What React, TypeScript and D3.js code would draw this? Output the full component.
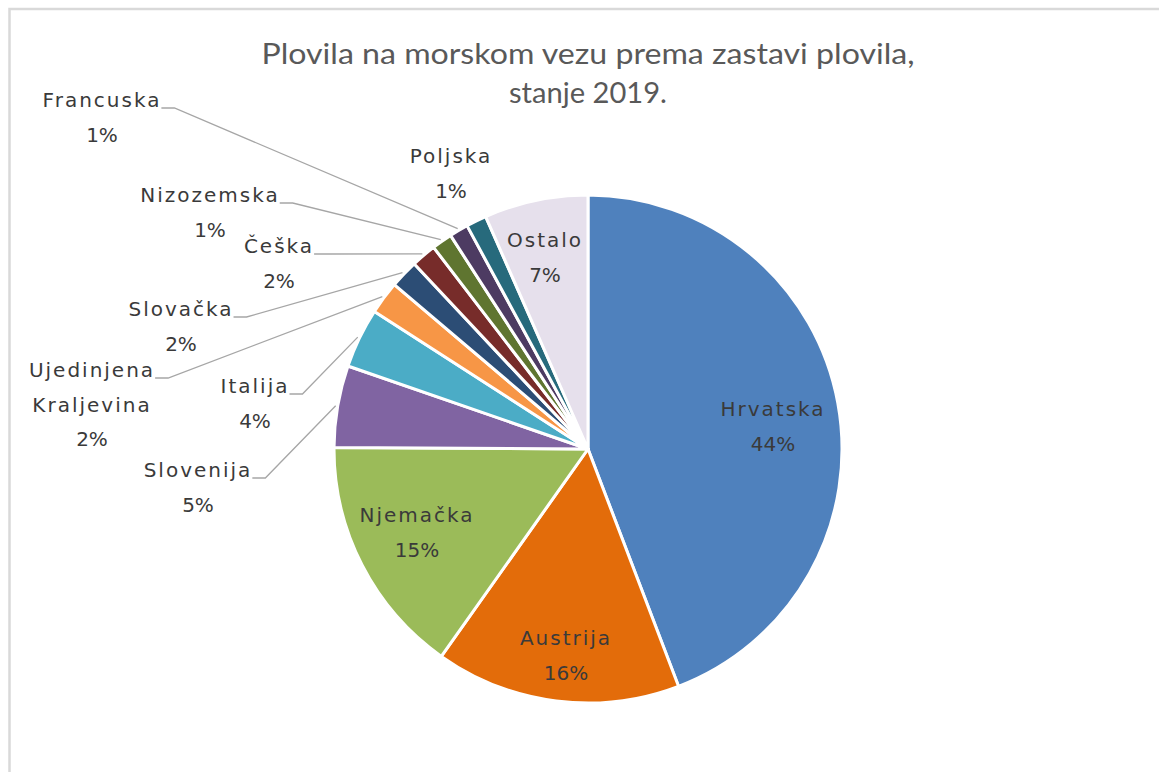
import React, { useRef, useEffect } from "react";
import * as d3 from "d3";

// share of vessels by flag (percent)
const countries = [
  "Hrvatska",
  "Austrija",
  "Njemačka",
  "Slovenija",
  "Italija",
  "Ujedinjena Kraljevina",
  "Slovačka",
  "Češka",
  "Nizozemska",
  "Francuska",
  "Poljska",
  "Ostalo",
];
const shares = [44.2, 15.6, 15.3, 5.2, 3.8, 2.1, 1.8, 1.6, 1.3, 1.2, 1.3, 6.6];
const colors = [
  "#4F81BD",
  "#E36C0A",
  "#9BBB59",
  "#8064A2",
  "#4BACC6",
  "#F79646",
  "#2C4D75",
  "#772C2A",
  "#5F7530",
  "#4D3B62",
  "#276A7C",
  "#E6E0EC",
];
const titleLines = ["Plovila na morskom vezu prema zastavi plovila,", "stanje 2019."];
const titleWidths = [653, 158];

// label placement (center x, baseline of first line), leader = outside label
const labelLayout = {
  Hrvatska: { x: 773, y: 416, leader: false },
  Austrija: { x: 566, y: 645, leader: false },
  "Njemačka": { x: 417, y: 522, leader: false },
  Slovenija: { x: 198, y: 477, leader: true },
  Italija: { x: 255, y: 393, leader: true },
  "Ujedinjena Kraljevina": { x: 92, y: 377, leader: true, lines: ["Ujedinjena", "Kraljevina"] },
  "Slovačka": { x: 181, y: 316, leader: true },
  "Češka": { x: 279, y: 253, leader: true },
  Nizozemska: { x: 210, y: 202, leader: true },
  Francuska: { x: 102, y: 107, leader: true },
  Poljska: { x: 451, y: 163, leader: false },
  Ostalo: { x: 545, y: 247, leader: false },
};

const W = 1159;
const H = 772;
const cx = 588;
const cy = 449;
const R = 254;
const lineGap = 34.5;

const App = () => {
  const svgRef = useRef(null);

  useEffect(() => {
    const svg = d3.select(svgRef.current);
    svg.selectAll("*").remove();

    svg
      .append("rect")
      .attr("x", 9.5)
      .attr("y", 9)
      .attr("width", W + 20)
      .attr("height", H + 20)
      .attr("fill", "#fff")
      .attr("stroke", "#d9d9d9")
      .attr("stroke-width", 2.5);

    const title = svg
      .append("text")
      .attr("text-anchor", "middle")
      .style("font-family", "Lato, 'Open Sans', sans-serif")
      .style("font-size", "29px")
      .attr("fill", "#595959");
    titleLines.forEach((t, i) => {
      title
        .append("tspan")
        .attr("x", 588)
        .attr("y", 64 + i * 39)
        .attr("textLength", titleWidths[i])
        .attr("lengthAdjust", "spacingAndGlyphs")
        .text(t);
    });

    const total = d3.sum(shares);
    const data = countries.map((c, i) => ({ name: c, value: shares[i], color: colors[i] }));

    const pie = d3.pie().sort(null).value((d) => d.value);
    const arcs = pie(data);
    const arc = d3.arc().innerRadius(0).outerRadius(R);

    const g = svg.append("g").attr("transform", `translate(${cx},${cy})`);
    g.selectAll("path")
      .data(arcs)
      .join("path")
      .attr("d", arc)
      .attr("fill", (d) => d.data.color)
      .attr("stroke", "#fff")
      .attr("stroke-width", 3)
      .attr("stroke-linejoin", "round");

    const leaderArc = d3.arc().innerRadius(R + 2).outerRadius(R + 2);

    arcs.forEach((a) => {
      const lay = labelLayout[a.data.name];
      const lines = lay.lines || [a.data.name];
      const pct = Math.round((a.data.value / total) * 100) + "%";
      const t = svg
        .append("text")
        .attr("text-anchor", "middle")
        .style("font-family", "'DejaVu Sans', sans-serif")
        .style("font-size", "20px")
        .attr("fill", "#3a3a3a");
      const nameSpans = lines.map((ln, i) =>
        t
          .append("tspan")
          .attr("x", lay.x)
          .attr("y", lay.y + i * lineGap)
          .style("letter-spacing", "2px")
          .text(ln)
      );
      t.append("tspan")
        .attr("x", lay.x)
        .attr("y", lay.y + lines.length * lineGap)
        .text(pct);

      if (lay.leader) {
        const first = nameSpans[0].node();
        const w = first.getComputedTextLength();
        const x0 = lay.x + w / 2;
        const y0 = lay.y + 1;
        const [ex, ey] = leaderArc.centroid(a);
        svg
          .append("polyline")
          .attr("points", `${x0},${y0} ${x0 + 13},${y0} ${cx + ex},${cy + ey}`)
          .attr("fill", "none")
          .attr("stroke", "#a6a6a6")
          .attr("stroke-width", 1.3);
      }
    });
  }, []);

  return (
    <svg
      ref={svgRef}
      width={W}
      height={H}
      viewBox={`0 0 ${W} ${H}`}
      style={{ position: "absolute", left: 0, top: 0, background: "#fff" }}
    />
  );
};

export default App;
